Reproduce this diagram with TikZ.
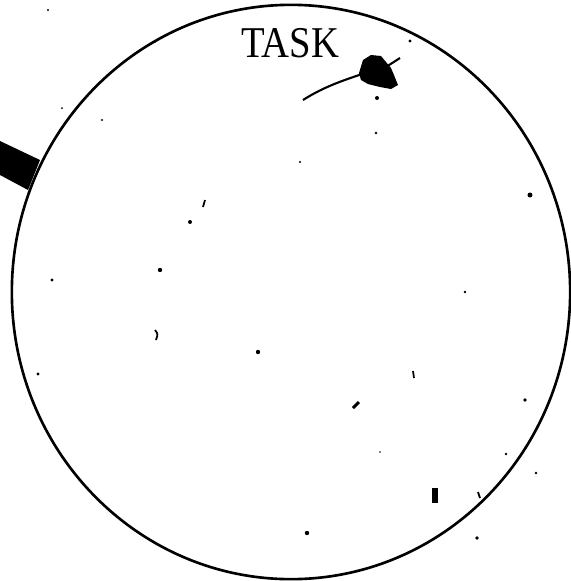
\documentclass[tikz,border=0pt]{standalone}
\usepackage{fontspec}
\setmainfont{Liberation Serif}
\usetikzlibrary{shapes.geometric}

\begin{document}
\begin{tikzpicture}[x=0.01cm, y=-0.01cm,
    taskring/.style={ellipse, draw=black, line width=0.75pt, minimum width=5.58cm, minimum height=5.74cm, inner sep=0pt},
    title/.style={font=\fontsize{12.5}{14}\selectfont, inner sep=0pt, xscale=0.88},
    speck/.style={fill=black}
  ]
  \useasboundingbox (0,0) rectangle (571,581);

  % Ring & title
  \node[taskring] (task) at (291,292) {};
  \node[title] (tasklabel) at (290,43) {TASK};

  % Bar entering from the left
  \fill (0,141) -- (40,160) -- (28,190) -- (0,175) -- cycle;

  % Blot with its strokes
  \coordinate (blot) at (362,74);
  \draw[line width=0.6pt] (303,100) .. controls (325,86) and (345,80) .. (blot);
  \draw[line width=0.6pt] (386,67) -- (400,58);
  \fill (359,73) -- (363,60) -- (371,55) -- (381,56) -- (386,62) -- (391,68)
    -- (394,75) -- (398,85) -- (391,89) -- (380,87) -- (368,84) -- (361,80) -- cycle;

  % Specks
  \foreach \x/\y/\r in {377/98/2.0, 410/41/1.7, 530/195/2.5, 190/222/2.0, 160/270/2.2,
      52/280/1.7, 258/352/2.2, 38/374/1.7, 465/292/1.3, 376/133/1.3, 300/162/1.1,
      307/533/2.2, 477/538/1.8, 525/400/1.8, 102/120/1.1, 155/42/0.9, 48/10/1.1,
      506/454/1.3, 536/473/1.3, 62/108/1.0, 380/452/0.9}
    \fill[speck] (\x,\y) circle (\r);
  \fill (432,488) rectangle (438,503);
  \draw[line width=0.9pt] (353,408) -- (359,402);
  \draw[line width=0.5pt] (155,330) .. controls (158,334) .. (156,340);
  \draw[line width=0.5pt] (413,371) -- (414,378);
  \draw[line width=0.5pt] (205,200) -- (203,207);
  \draw[line width=0.5pt] (478,492) -- (480,498);
\end{tikzpicture}
\end{document}
